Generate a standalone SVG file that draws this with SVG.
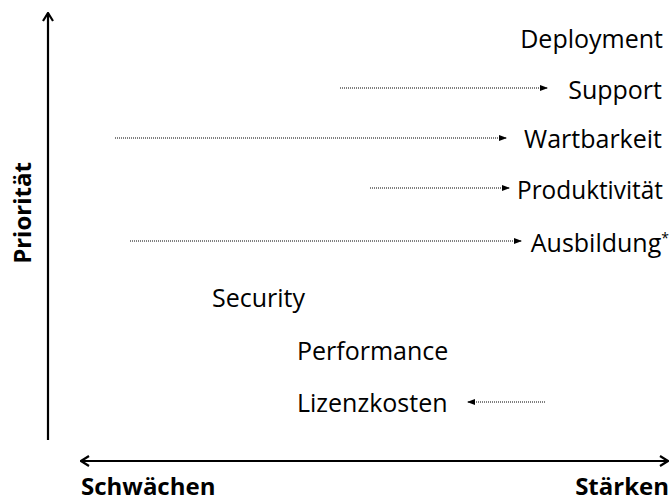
<svg xmlns="http://www.w3.org/2000/svg" width="670" height="501" viewBox="0 0 670 501">
<defs>
<marker id="tri" viewBox="0 0 8 6" refX="8" refY="3" markerWidth="8" markerHeight="6" markerUnits="userSpaceOnUse" orient="auto-start-reverse">
<path d="M0,0 L8,3 L0,6 Z" fill="#000"/>
</marker>
<marker id="chev" viewBox="0 0 12 12" refX="11" refY="6" markerWidth="12" markerHeight="12" markerUnits="userSpaceOnUse" orient="auto-start-reverse">
<path d="M3,1 L11,6 L3,11" fill="none" stroke="#000" stroke-width="2.2"/>
</marker>
<style>
.lbl{font-family:"Open Sans","Liberation Sans",sans-serif;font-size:25px;fill:#000}
.ax{font-family:"Open Sans","Liberation Sans",sans-serif;font-size:24px;font-weight:bold;fill:#000}
.dot{stroke:#000;stroke-width:1;stroke-dasharray:1 1;fill:none}
.axis{stroke:#000;stroke-width:2.2;fill:none}
</style>
</defs>
<g id="axes">
<line class="axis" x1="48" y1="440" x2="48" y2="13" marker-end="url(#chev)"/>
<line class="axis" x1="81" y1="461" x2="668" y2="461" marker-start="url(#chev)" marker-end="url(#chev)"/>
<text class="ax" transform="translate(31,213) rotate(-90)" text-anchor="middle">Priorität</text>
<text class="ax" x="81" y="495">Schwächen</text>
<text class="ax" x="669" y="495" text-anchor="end">Stärken</text>
</g>
<g id="connectors">
<line class="dot" x1="340" y1="88" x2="548" y2="88" marker-end="url(#tri)"/>
<line class="dot" x1="115" y1="138" x2="507" y2="138" marker-end="url(#tri)"/>
<line class="dot" x1="370" y1="188" x2="510" y2="188" marker-end="url(#tri)"/>
<line class="dot" x1="130" y1="241" x2="522" y2="241" marker-end="url(#tri)"/>
<line class="dot" x1="545" y1="402" x2="467" y2="402" marker-end="url(#tri)"/>
</g>
<g id="deployment"><text class="lbl" x="663" y="48" text-anchor="end">Deployment</text></g>
<g id="support"><text class="lbl" x="662" y="99" text-anchor="end">Support</text></g>
<g id="wartbarkeit"><text class="lbl" x="662" y="148" text-anchor="end">Wartbarkeit</text></g>
<g id="produktivitaet"><text class="lbl" x="517" y="199" textLength="146" lengthAdjust="spacingAndGlyphs">Produktivität</text></g>
<g id="ausbildung"><text class="lbl" x="669" y="252" text-anchor="end">Ausbildung<tspan font-size="14" dy="-9">*</tspan></text></g>
<g id="security"><text class="lbl" x="212" y="307">Security</text></g>
<g id="performance"><text class="lbl" x="297" y="360">Performance</text></g>
<g id="lizenzkosten"><text class="lbl" x="297" y="412">Lizenzkosten</text></g>
</svg>
